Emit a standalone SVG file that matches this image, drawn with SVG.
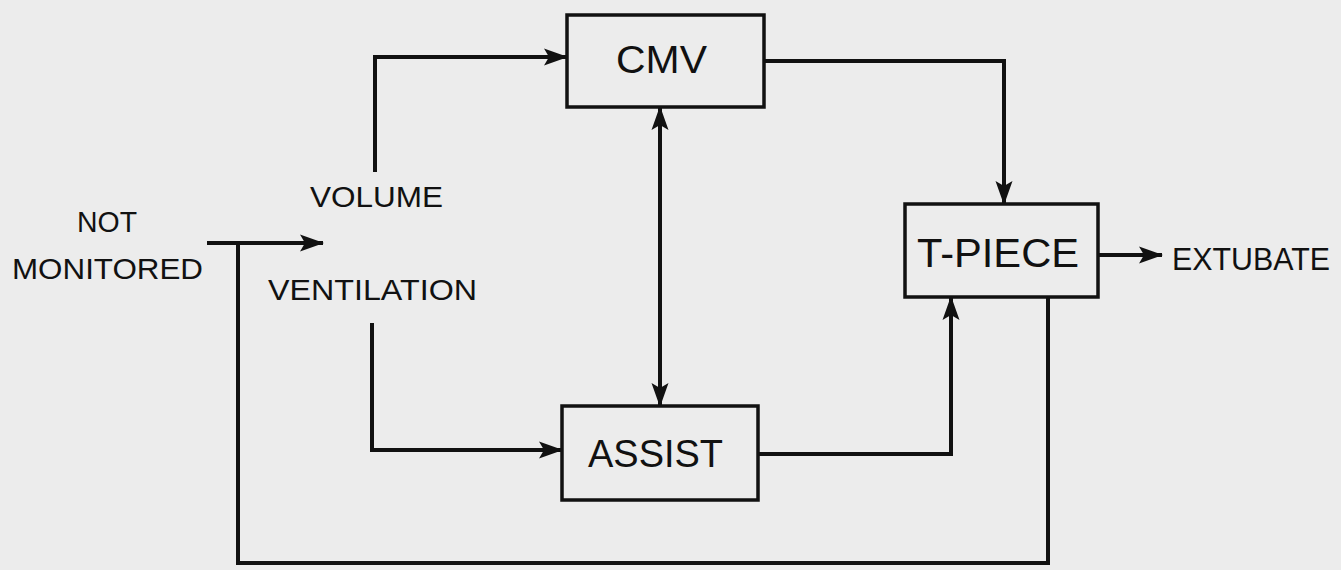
<svg xmlns="http://www.w3.org/2000/svg" width="1341" height="570" viewBox="0 0 1341 570">
  <style>
    .bg { fill: #ececec; }
    .box { fill: none; stroke: #111; stroke-width: 3.5; }
    .wire { fill: none; stroke: #111; stroke-width: 4; stroke-linejoin: miter; }
    .lbl { font-family: "Liberation Sans", Arial, sans-serif; fill: #111; }
  </style>
  <defs>
    <marker id="arrow" markerUnits="userSpaceOnUse" markerWidth="24" markerHeight="18" refX="23" refY="9" orient="auto-start-reverse" viewBox="0 0 24 18">
      <path d="M0,0.5 L24,9 L0,17.5 L5,9 z" fill="#111"/>
    </marker>
  </defs>
  <rect class="bg" x="0" y="0" width="1341" height="570"/>

  <g id="connectors">
    <path class="wire" d="M207,243 H323" marker-end="url(#arrow)"/>
    <path class="wire" d="M1048,297 V563 H238 V243"/>
    <path class="wire" d="M375,172 V57 H567" marker-end="url(#arrow)"/>
    <path class="wire" d="M372,323 V450 H562" marker-end="url(#arrow)"/>
    <path class="wire" d="M764,61 H1004 V204" marker-end="url(#arrow)"/>
    <path class="wire" d="M660,107 V406" marker-start="url(#arrow)" marker-end="url(#arrow)"/>
    <path class="wire" d="M758,454 H951 V297" marker-end="url(#arrow)"/>
    <path class="wire" d="M1098,255 H1162" marker-end="url(#arrow)"/>
  </g>

  <g id="not-monitored">
    <text class="lbl" x="77" y="232" font-size="29" textLength="60" lengthAdjust="spacingAndGlyphs">NOT</text>
    <text class="lbl" x="12" y="279" font-size="29" textLength="191" lengthAdjust="spacingAndGlyphs">MONITORED</text>
  </g>

  <g id="volume-ventilation">
    <text class="lbl" x="310" y="207" font-size="30" textLength="133" lengthAdjust="spacingAndGlyphs">VOLUME</text>
    <text class="lbl" x="268" y="300" font-size="30" textLength="209" lengthAdjust="spacingAndGlyphs">VENTILATION</text>
  </g>

  <g id="cmv">
    <rect class="box" x="567" y="15" width="197" height="92"/>
    <text class="lbl" x="616" y="73" font-size="38" textLength="91" lengthAdjust="spacingAndGlyphs">CMV</text>
  </g>

  <g id="assist">
    <rect class="box" x="562" y="406" width="196" height="94"/>
    <text class="lbl" x="588" y="467" font-size="38" textLength="135" lengthAdjust="spacingAndGlyphs">ASSIST</text>
  </g>

  <g id="t-piece">
    <rect class="box" x="905" y="204" width="193" height="93"/>
    <text class="lbl" x="917" y="267" font-size="40" textLength="162" lengthAdjust="spacingAndGlyphs">T-PIECE</text>
  </g>

  <g id="extubate">
    <text class="lbl" x="1172" y="270" font-size="32" textLength="158" lengthAdjust="spacingAndGlyphs">EXTUBATE</text>
  </g>
</svg>
